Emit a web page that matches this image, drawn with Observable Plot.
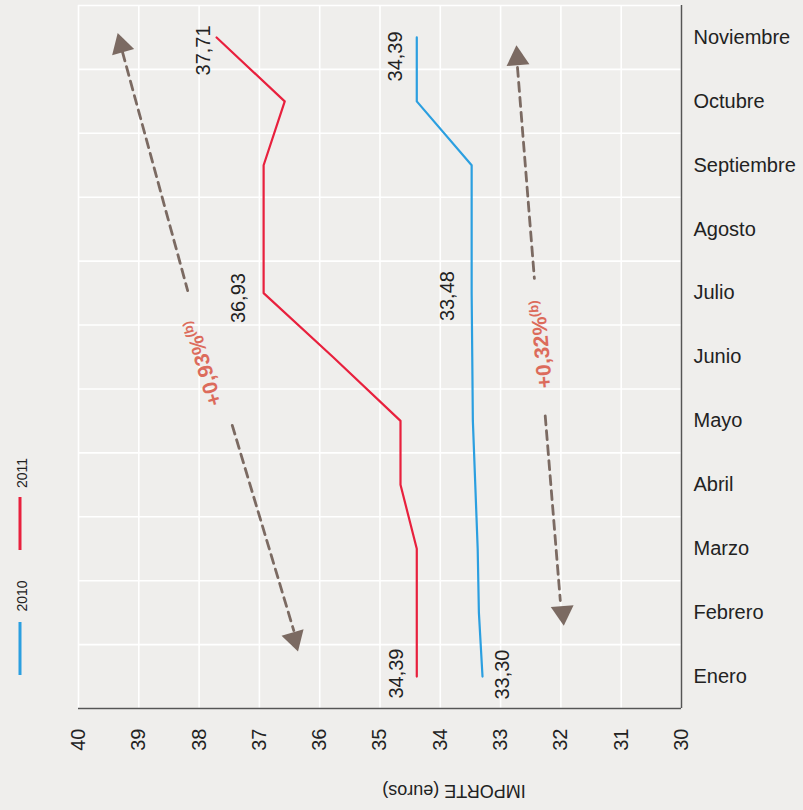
<!DOCTYPE html>
<html>
<head>
<meta charset="utf-8">
<script src="https://cdn.jsdelivr.net/npm/d3@7"></script>
<script src="https://cdn.jsdelivr.net/npm/@observablehq/plot@0.6"></script>
<style>
  html, body { margin: 0; padding: 0; background: #efeeec; }
  #chart { position: relative; width: 803px; height: 810px; font-family: "Liberation Sans", Arial, sans-serif; }
  #legend { position: absolute; left: 0; top: 0; pointer-events: none; }
</style>
</head>
<body>
<div id="chart"></div>
<script>
// ---- Data ----
const months = ["Enero","Febrero","Marzo","Abril","Mayo","Junio","Julio","Agosto","Septiembre","Octubre","Noviembre"];
const v2011 = [34.39, 34.39, 34.39, 34.66, 34.66, 35.78, 36.93, 36.93, 36.93, 36.58, 37.71];
const v2010 = [33.30, 33.36, 33.38, 33.42, 33.46, 33.47, 33.48, 33.48, 33.48, 34.39, 34.39];
const xTicks = [30, 31, 32, 33, 34, 35, 36, 37, 38, 39, 40];
const seriesNames = ["2010", "2011"];
// annotation arrows: [importe, month index]
const arrowLeftUpper = [[39.27, 9.77], [38.19, 6.04]];
const arrowLeftLower = [[37.45, 3.93], [36.43, 0.72]];
const arrowRightUpper = [[32.72, 9.53], [32.44, 6.23]];
const arrowRightLower = [[32.26, 4.08], [32.01, 1.19]];
const arrowHeads = [
  {x: 39.29, y: 9.87, rot: -16},
  {x: 36.42, y: 0.59, rot: 164},
  {x: 32.72, y: 9.67, rot: -4.6},
  {x: 31.97, y: 1.00, rot: 175.4}
];
const arrowTexts = [
  {x: 37.93, y: 4.91, rot: -106, text: "+0,93%"},
  {x: 32.32, y: 5.20, rot: -94.6, text: "+0,32%"}
];
const noteMark = "(b)";

const red = "#e8203d", blue = "#2b9fe0", arrowColor = "#7b6a62", pctColor = "#dc6b5b";
const fmt = v => d3.format(".2f")(v).replace(".", ",");
const idx = d3.range(months.length);

const lbl = (arr, i, dx, dy) => Plot.text([i], {
  x: j => arr[j], y: j => j, text: j => fmt(arr[j]),
  rotate: -90, dx, dy, fontSize: 20, fill: "#222", textAnchor: "middle", lineAnchor: "middle"
});

const chart = Plot.plot({
  width: 803, height: 810,
  marginLeft: 78, marginRight: 122, marginTop: 5, marginBottom: 102,
  style: {background: "#efeeec", fontFamily: "'Liberation Sans', Arial, sans-serif", fontSize: "20px", color: "#222"},
  x: {domain: [40, 30]},
  y: {domain: [-0.5, 10.5]},
  marks: [
    Plot.gridX(xTicks, {stroke: "#ffffff", strokeOpacity: 1, strokeWidth: 1.6}),
    Plot.gridY(d3.range(-0.5, 10.6, 1), {stroke: "#ffffff", strokeOpacity: 1, strokeWidth: 1.6}),
    Plot.ruleY([-0.5], {stroke: "#555", strokeWidth: 1.5}),
    Plot.ruleX([30], {stroke: "#555", strokeWidth: 1.5}),
    Plot.axisX({ticks: xTicks, tickSize: 0, tickPadding: 20, tickRotate: -90, fontSize: 20, label: null, tickFormat: d => String(d)}),
    Plot.axisY({anchor: "right", ticks: idx, tickSize: 0, tickPadding: 12, fontSize: 20, label: null, tickFormat: i => months[i]}),
    Plot.text(["IMPORTE (euros)"], {frameAnchor: "bottom", dx: 74, dy: 76, rotate: 180, fontSize: 18, fill: "#222", text: d => d}),
    Plot.line(idx, {x: i => v2010[i], y: i => i, stroke: blue, strokeWidth: 2.2}),
    Plot.line(idx, {x: i => v2011[i], y: i => i, stroke: red, strokeWidth: 2.2}),
    lbl(v2011, 10, -13, 13),
    lbl(v2011, 6, -25, 5),
    lbl(v2011, 0, -20, -3),
    lbl(v2010, 10, -21, 19),
    lbl(v2010, 6, -24, 3),
    lbl(v2010, 0, 20, -2),
    ...[arrowLeftUpper, arrowLeftLower, arrowRightUpper, arrowRightLower].map(a =>
      Plot.line(a, {x: d => d[0], y: d => d[1], stroke: arrowColor, strokeWidth: 2.8, strokeDasharray: "9,6"})),
    Plot.dot(arrowHeads, {x: "x", y: "y", symbol: "triangle", r: 8.5, fill: arrowColor, stroke: "none", rotate: "rot"}),
    Plot.text(arrowTexts, {x: "x", y: "y", text: "text", rotate: d => d.rot, fill: pctColor, fontWeight: "bold", fontSize: 21, className: "pct"})
  ]
});
document.getElementById("chart").appendChild(chart);

// superscript "(b)" after each percentage
d3.select(chart).selectAll("text").filter(function() { return /%$/.test(this.textContent); })
  .each(function() {
    d3.select(this).append("tspan").attr("dy", "-0.55em").attr("font-size", 13).text(noteMark);
  });

// ---- Legend (rotated, left side) ----
const leg = d3.select("#chart").append("svg").attr("id", "legend").attr("width", 60).attr("height", 810);
const legItems = [
  {name: seriesNames[0], color: blue, y1: 622, y2: 675, ty: 596},
  {name: seriesNames[1], color: red, y1: 497, y2: 550, ty: 473}
];
legItems.forEach(d => {
  leg.append("line").attr("x1", 20).attr("x2", 20).attr("y1", d.y1).attr("y2", d.y2)
    .attr("stroke", d.color).attr("stroke-width", 3);
  leg.append("text").attr("transform", `translate(22,${d.ty}) rotate(-90)`)
    .attr("text-anchor", "middle").attr("dy", "0.35em")
    .attr("font-family", "'Liberation Sans', Arial, sans-serif").attr("font-size", 14).attr("fill", "#222")
    .text(d.name);
});
</script>
</body>
</html>
